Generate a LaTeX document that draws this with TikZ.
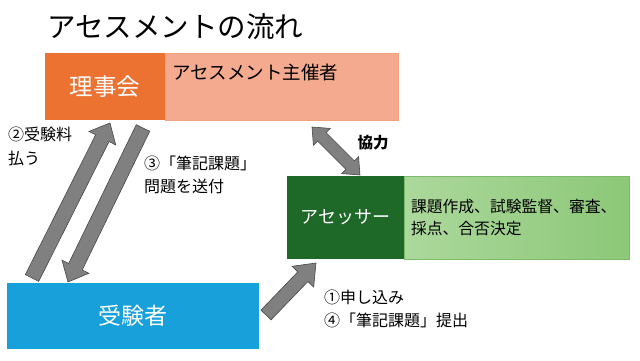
\documentclass[tikz,border=0pt]{standalone}
\usepackage{fontspec}
\setmainfont{Noto Sans CJK JP}
\usetikzlibrary{positioning,calc}
\definecolor{Riji}{RGB}{236,114,50}
\definecolor{Shusai}{RGB}{244,170,142}
\definecolor{Juken}{RGB}{24,160,218}
\definecolor{Assessor}{RGB}{30,104,40}
\definecolor{DutyL}{RGB}{172,216,156}
\definecolor{DutyR}{RGB}{140,200,120}
\definecolor{ArrowGray}{RGB}{128,128,128}
\definecolor{ArrowEdge}{RGB}{72,72,72}

% block arrow: from, to, half shaft, half head, head length
\newcommand\fatarrow[5]{%
  \path ($(#2)!#5!(#1)$) coordinate (neck);
  \draw[blockarrow] ($(#1)!#3!90:(#2)$) -- ($(neck)!#3!90:(#2)$) -- ($(neck)!#4!90:(#2)$) -- (#2)
    -- ($(neck)!#4!-90:(#2)$) -- ($(neck)!#3!-90:(#2)$) -- ($(#1)!#3!-90:(#2)$) -- cycle;}
\newcommand\fatdblarrow[5]{%
  \path ($(#2)!#5!(#1)$) coordinate (neckB) ($(#1)!#5!(#2)$) coordinate (neckA);
  \draw[blockarrow] (#1) -- ($(neckA)!#4!90:(#2)$) -- ($(neckA)!#3!90:(#2)$) -- ($(neckB)!#3!90:(#2)$)
    -- ($(neckB)!#4!90:(#2)$) -- (#2) -- ($(neckB)!#4!-90:(#2)$) -- ($(neckB)!#3!-90:(#2)$)
    -- ($(neckA)!#3!-90:(#2)$) -- ($(neckA)!#4!-90:(#2)$) -- cycle;}

\begin{document}
\begin{tikzpicture}[x=1pt,y=1pt,
  box/.style={inner sep=0pt,outer sep=0pt,align=center},
  lbl/.style={inner sep=0pt,anchor=west,align=left,font=\fontsize{16}{23.5}\selectfont},
  blockarrow/.style={fill=ArrowGray,draw=ArrowEdge,line width=.6pt,line join=miter}]
\useasboundingbox (0,0) rectangle (640,360);
\node[inner sep=0pt,anchor=west,font=\fontsize{28.5}{33}\selectfont] (title) at (47,333) {アセスメントの流れ};
\node[box,fill=Riji,text=white,minimum width=120pt,minimum height=67pt,font=\fontsize{23.5}{27}\selectfont] (riji) at (105,273.5) {理事会};
\node[box,fill=Shusai,draw=Shusai!85!Riji,minimum width=233pt,minimum height=67pt,right=0pt of riji] (shusai) {};
\node[lbl,font=\fontsize{18.5}{22}\selectfont] (shusaitxt) at ([shift={(7pt,-19pt)}]shusai.north west) {アセスメント主催者};
\node[box,fill=Juken,text=white,minimum width=252pt,minimum height=66pt,font=\fontsize{23}{27}\selectfont] (juken) at (133,44) {受験者};
\node[box,fill=Assessor,text=white,minimum width=117pt,minimum height=83pt,font=\fontsize{18}{21}\selectfont] (assessor) at (345.5,142.5) {アセッサー};
\node[box,left color=DutyL,right color=DutyR,draw=DutyR!85!Assessor,minimum width=225pt,minimum height=83pt,
  text width=211pt,align=left,font=\fontsize{15.8}{22}\selectfont,right=0pt of assessor] (duties) {課題作成、試験監督、審査、\\採点、合否決定};

\node[lbl] (paylbl) at (8,213.5) {②受験料\\払う};
\node[lbl] (sendlbl) at (144,185) {③「筆記課題」\\問題を送付};
\node[lbl,anchor=center,font=\fontsize{15.5}{18}\selectfont\bfseries] (cooplbl) at (373,217) {協力};
\node[lbl] (applylbl) at (324,51) {①申し込み\\④「筆記課題」提出};

\coordinate (payS) at ([shift={(25pt,5pt)}]juken.north west);
\coordinate (payE) at ([shift={(65pt,-3pt)}]riji.south west);
\coordinate (sendS) at ([shift={(98pt,-8pt)}]riji.south west);
\coordinate (sendE) at ([shift={(61pt,1pt)}]juken.north west);
\coordinate (applyS) at ([shift={(7pt,-32pt)}]juken.north east);
\coordinate (applyE) at ([shift={(29pt,-4pt)}]assessor.south west);
\coordinate (coopA) at ([shift={(147pt,-7pt)}]shusai.south west);
\coordinate (coopB) at ([shift={(73pt,1pt)}]assessor.north west);

\fatarrow{payS}{payE}{7.5pt}{15pt}{17pt}
\fatarrow{sendS}{sendE}{7.5pt}{15pt}{17pt}
\fatarrow{applyS}{applyE}{7pt}{15pt}{19pt}
\fatdblarrow{coopA}{coopB}{6pt}{12pt}{14pt}
\end{tikzpicture}
\end{document}
